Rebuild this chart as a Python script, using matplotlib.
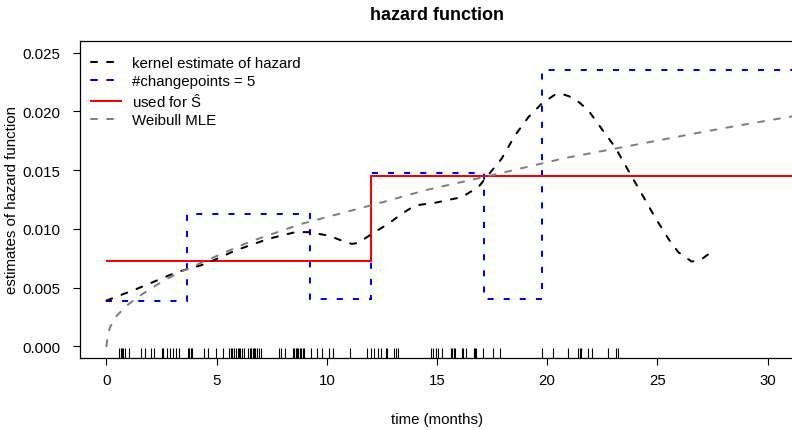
import matplotlib
matplotlib.use("Agg")
import matplotlib.pyplot as plt
from matplotlib.lines import Line2D

plt.rcParams["font.family"] = ["Liberation Sans", "DejaVu Sans"]
plt.rcParams["mathtext.fontset"] = "custom"
plt.rcParams["mathtext.rm"] = "Liberation Sans"

# kernel estimate of the hazard (black dashed)
kernel_t = [0.0, 1.38, 3.19, 4.48, 5.84, 7.35, 8.57, 9.17, 10.07, 10.68, 11.13, 11.43,
            12.04, 12.79, 13.4, 14.0, 14.91, 16.12, 16.88, 17.18, 17.93, 18.54, 19.15,
            19.75, 20.35, 20.66, 20.96, 21.26, 21.87, 22.47, 23.08, 23.68, 24.29, 24.89,
            25.5, 25.95, 26.56, 27.02, 27.61]
kernel_h = [0.00389, 0.00489, 0.00631, 0.0070, 0.00815, 0.00915, 0.00972, 0.00972,
            0.00943, 0.0090, 0.00872, 0.0088, 0.00957, 0.01043, 0.01128, 0.01199,
            0.01222, 0.0127, 0.01356, 0.01426, 0.01597, 0.01796, 0.01952, 0.02066,
            0.02143, 0.0215, 0.02131, 0.02108, 0.02009, 0.01852, 0.01697, 0.01497,
            0.01298, 0.0110, 0.00915, 0.00801, 0.00721, 0.00744, 0.00824]

# piecewise constant hazard with 5 changepoints (blue dashed)
cp_breaks = [0.0, 3.65, 9.24, 12.0, 17.12, 19.76, 32.0]
cp_levels = [0.00389, 0.01128, 0.00400, 0.01475, 0.00400, 0.02350]

# hazard used for S-hat (red)
used_breaks = [0.0, 12.0, 32.0]
used_levels = [0.00725, 0.01450]

# Weibull MLE hazard (grey dashed)
weib_t = [0.0, 0.05, 0.16, 0.47, 0.92, 1.52, 2.59, 3.49, 4.70, 6.5, 8.86, 12.2, 14.5,
          17.63, 20.81, 24.0, 27.02, 28.68, 31.5]
weib_h = [0.0, 0.00077, 0.00162, 0.00261, 0.00346, 0.00431, 0.00559, 0.00645, 0.00744,
          0.0089, 0.01043, 0.0121, 0.0133, 0.01463, 0.01603, 0.01716, 0.01824, 0.0188,
          0.0197]

# observed event times (rug)
event_times = [0.57, 0.64, 0.70, 0.76, 0.82, 1.03, 1.57, 1.75, 2.0, 2.15, 2.51, 2.57,
               2.75, 2.87, 3.0, 3.15, 3.3, 3.69, 3.75, 3.84, 3.9, 4.42, 4.6, 4.96, 5.3,
               5.54, 5.66, 5.72, 5.81, 5.9, 5.96, 6.02, 6.08, 6.14, 6.23, 6.44, 6.5,
               6.57, 6.63, 6.69, 6.75, 6.84, 6.93, 7.02, 7.84, 7.93, 8.11, 8.47, 8.53,
               8.59, 8.65, 8.71, 8.77, 8.83, 8.9, 8.96, 9.26, 9.56, 9.8, 10.08, 10.26,
               11.04, 11.83, 12.01, 12.16, 12.34, 12.44, 12.68, 12.74, 13.07, 13.16,
               13.25, 14.73, 14.82, 14.94, 15.03, 15.24, 15.64, 15.7, 15.76, 15.82,
               16.12, 16.18, 16.33, 16.66, 16.72, 16.79, 17.09, 17.54, 17.84, 19.75,
               20.26, 20.96, 21.41, 21.47, 21.54, 21.84, 22.05, 22.78, 23.14, 23.2]

x_ticks = [0, 5, 10, 15, 20, 25, 30]
y_ticks = [0.000, 0.005, 0.010, 0.015, 0.020, 0.025]

LW = 1.45
DASH = (3, 5)

fig = plt.figure(figsize=(7.92, 4.31), dpi=100)
ax = fig.add_axes([80 / 792, 1 - 359 / 431, 714 / 792, 317 / 431])

ax.plot(kernel_t, kernel_h, color="black", lw=LW, dashes=DASH, dash_capstyle="round")
ax.stairs(cp_levels, cp_breaks, color="blue", lw=LW, linestyle=(0, DASH), baseline=None)
ax.stairs(used_levels, used_breaks, color="red", lw=LW, baseline=None)
ax.plot(weib_t, weib_h, color="grey", lw=LW, dashes=DASH, dash_capstyle="round")
ax.vlines(event_times, 0, 0.03, transform=ax.get_xaxis_transform(), color="black", lw=0.8)

ax.set_xlim(-1.2, 31.2)
ax.set_ylim(-0.001, 0.026)
ax.set_xticks(x_ticks)
ax.set_xticklabels([str(t) for t in x_ticks])
ax.set_yticks(y_ticks)
ax.set_yticklabels([f"{v:.3f}" for v in y_ticks])
ax.tick_params(direction="out", length=5, width=0.8, labelsize=10.8)
ax.tick_params(axis="x", pad=6)
ax.tick_params(axis="y", pad=9)
for sp in ax.spines.values():
    sp.set_linewidth(0.9)

handles = [
    Line2D([], [], color="black", lw=LW, dashes=DASH, dash_capstyle="round"),
    Line2D([], [], color="blue", lw=LW, dashes=DASH, dash_capstyle="round"),
    Line2D([], [], color="red", lw=LW),
    Line2D([], [], color="grey", lw=LW, dashes=DASH, dash_capstyle="round"),
]
labels = ["kernel estimate of hazard", "#changepoints = 5",
          r"used for $\hat{\mathrm{S}}$", "Weibull MLE"]
ax.legend(handles, labels, loc="upper left", bbox_to_anchor=(0.0, 0.985),
          frameon=False, fontsize=10.8, handlelength=2.0, handletextpad=0.8,
          labelspacing=0.25, borderaxespad=0.3)

fig.text(437 / 792, 1 - 15 / 431, "hazard function", ha="center", va="center",
         fontsize=13, fontweight="bold")
fig.text(437 / 792, 1 - 420 / 431, "time (months)", ha="center", va="center", fontsize=10.8)
fig.text(12 / 792, 1 - 200 / 431, "estimates of hazard function", ha="center", va="center",
         rotation=90, fontsize=10.8)

fig.savefig("out.png", dpi=100, facecolor="white")
